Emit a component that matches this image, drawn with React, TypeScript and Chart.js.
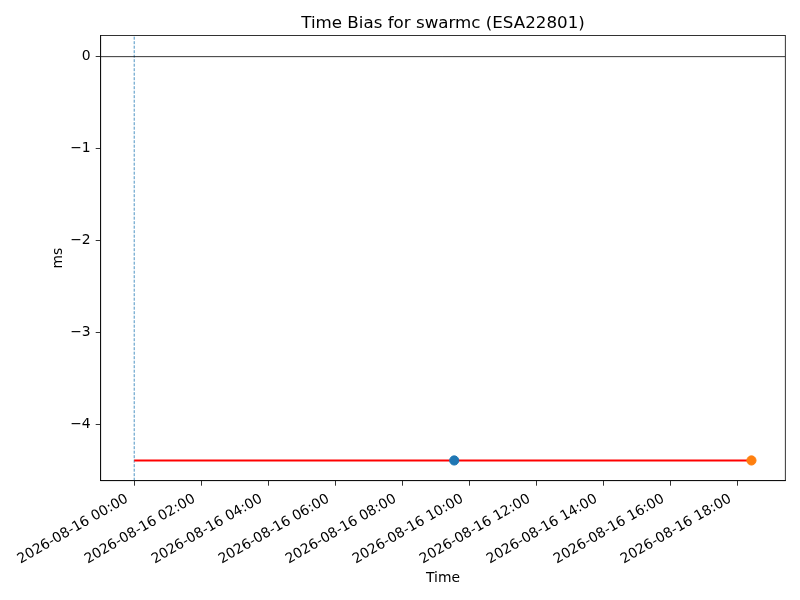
import React, { useEffect, useRef } from "react";
import { Chart, registerables } from "chart.js";

Chart.register(...registerables);

// Data (hours since 2026-08-16 00:00, values in ms)
const xTickHours = [0, 2, 4, 6, 8, 10, 12, 14, 16, 18];
const yTickValues = [-4, -3, -2, -1, 0];
const biasLineX = [0, 18.42];
const biasLineY = [-4.39, -4.39];
const firstPoint = { x: 9.55, y: -4.39 };
const lastPoint = { x: 18.42, y: -4.39 };
const referenceTimeHour = 0;
const zeroLevel = 0;
const xLimits = [-1.0, 19.43];
const yLimits = [-4.61, 0.23];
const datePrefix = "2026-08-16";
const titleText = "Time Bias for swarmc (ESA22801)";

const FONT = "DejaVu Sans";

function fmtHour(h: number) {
  const hh = Math.floor(h);
  const mm = Math.round((h - hh) * 60);
  return `${datePrefix} ${String(hh).padStart(2, "0")}:${String(mm).padStart(2, "0")}`;
}

const framePlugin = {
  id: "framePlugin",
  afterDraw(chart: any) {
    const { ctx, chartArea } = chart;
    ctx.save();
    ctx.strokeStyle = "#000";
    ctx.lineWidth = 0.8;
    ctx.strokeRect(chartArea.left, chartArea.top, chartArea.right - chartArea.left, chartArea.bottom - chartArea.top);
    ctx.fillStyle = "#000";
    ctx.font = `16.7px "${FONT}"`;
    ctx.textAlign = "center";
    ctx.textBaseline = "middle";
    ctx.fillText(titleText, (chartArea.left + chartArea.right) / 2, 23.5);
    ctx.font = `13.9px "${FONT}"`;
    ctx.fillText("Time", (chartArea.left + chartArea.right) / 2, 578);
    ctx.translate(58, (chartArea.top + chartArea.bottom) / 2);
    ctx.rotate(-Math.PI / 2);
    ctx.fillText("ms", 0, 0);
    ctx.restore();
  },
};

export default function App() {
  const ref = useRef<HTMLCanvasElement | null>(null);
  useEffect(() => {
    if (!ref.current) return;
    const chart = new Chart(ref.current, {
      type: "line",
      data: {
        datasets: [
          {
            label: "first",
            type: "scatter",
            data: [firstPoint],
            backgroundColor: "#1f77b4",
            borderColor: "#1f77b4",
            pointRadius: 4.6,
            pointHoverRadius: 4.6,
            order: 1,
          } as any,
          {
            label: "last",
            type: "scatter",
            data: [lastPoint],
            backgroundColor: "#ff7f0e",
            borderColor: "#ff7f0e",
            pointRadius: 4.6,
            pointHoverRadius: 4.6,
            order: 0,
          } as any,
          {
            label: "bias",
            data: biasLineX.map((x, i) => ({ x, y: biasLineY[i] })),
            borderColor: "#ff0000",
            borderWidth: 2,
            pointRadius: 0,
            order: 2,
          },
          {
            label: "zero",
            data: [
              { x: xLimits[0], y: zeroLevel },
              { x: xLimits[1], y: zeroLevel },
            ],
            borderColor: "#000000",
            borderWidth: 0.8,
            pointRadius: 0,
            order: 3,
          },
          {
            label: "ref",
            data: [
              { x: referenceTimeHour, y: yLimits[0] },
              { x: referenceTimeHour, y: yLimits[1] },
            ],
            borderColor: "#1f77b4",
            borderWidth: 0.8,
            borderDash: [3, 1.5],
            pointRadius: 0,
            order: 4,
          },
        ],
      },
      options: {
        animation: false,
        responsive: false,
        maintainAspectRatio: false,
        devicePixelRatio: 1,
        layout: { padding: { left: 0, right: 14.7, top: 35.5, bottom: 0 } },
        plugins: {
          legend: { display: false },
          title: { display: false },
          tooltip: { enabled: false },
        },
        scales: {
          x: {
            type: "linear",
            min: xLimits[0],
            max: xLimits[1],
            afterFit(scale: any) {
              scale.height = 119.3;
            },
            afterBuildTicks(scale: any) {
              scale.ticks = xTickHours.map((v) => ({ value: v }));
            },
            grid: {
              drawOnChartArea: false,
              drawTicks: true,
              tickLength: 5,
              color: "#000",
              lineWidth: 0.8,
            },
            border: { display: true, color: "#000", width: 0.8 },
            ticks: {
              autoSkip: false,
              maxRotation: 30,
              minRotation: 30,
              padding: 5,
              labelOffset: -7,
              color: "#000",
              font: { family: FONT, size: 13.9 },
              callback: (v: any) => fmtHour(Number(v)),
            },
          },
          y: {
            type: "linear",
            min: yLimits[0],
            max: yLimits[1],
            afterFit(scale: any) {
              scale.width = 100.7;
            },
            afterBuildTicks(scale: any) {
              scale.ticks = yTickValues.map((v) => ({ value: v }));
            },
            grid: {
              drawOnChartArea: false,
              drawTicks: true,
              tickLength: 5,
              color: "#000",
              lineWidth: 0.8,
            },
            border: { display: true, color: "#000", width: 0.8 },
            ticks: {
              padding: 5,
              color: "#000",
              font: { family: FONT, size: 13.9 },
              callback: (v: any) => (Number(v) < 0 ? "\u2212" + Math.abs(Number(v)) : String(v)),
            },
          },
        },
      },
      plugins: [framePlugin],
    });
    return () => chart.destroy();
  }, []);
  return (
    <div style={{ position: "fixed", left: 0, top: 0, width: 800, height: 600, background: "#fff" }}>
      <canvas ref={ref} width={800} height={600} style={{ width: 800, height: 600, display: "block" }} />
    </div>
  );
}
